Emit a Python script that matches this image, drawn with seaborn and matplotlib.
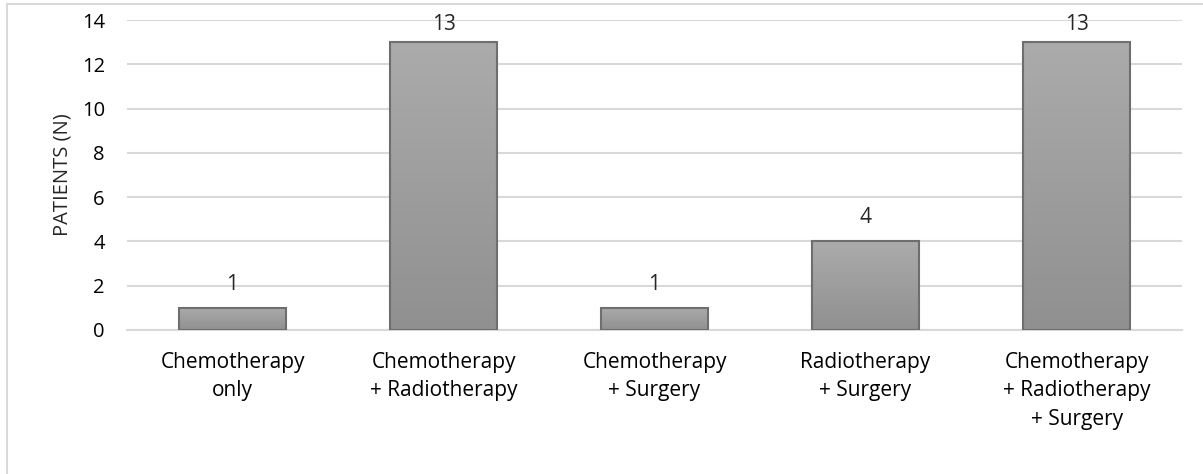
import numpy as np
import pandas as pd
import seaborn as sns
import matplotlib.pyplot as plt
from matplotlib.colors import LinearSegmentedColormap
from matplotlib.lines import Line2D

# data
categories = ["Chemotherapy\nonly", "Chemotherapy\n+ Radiotherapy", "Chemotherapy\n+ Surgery",
              "Radiotherapy\n+ Surgery", "Chemotherapy\n+ Radiotherapy\n+ Surgery"]
patients = [1, 13, 1, 4, 13]
y_ticks = [0, 2, 4, 6, 8, 10, 12, 14]

df = pd.DataFrame({"treatment": categories, "patients": patients})

sns.set_style("white")
plt.rcParams["font.family"] = ["Open Sans", "DejaVu Sans"]

fig = plt.figure(figsize=(12.03, 4.74), dpi=100)
ax = fig.add_axes([0.1056, 0.3038, 0.877, 0.654])

sns.barplot(data=df, x="treatment", y="patients", color="#a0a0a0", width=0.51,
            edgecolor="#6e6e6e", linewidth=1.5, ax=ax, zorder=3)

# vertical gradient fill on each bar
grad = np.linspace(0, 1, 256).reshape(-1, 1)
cmap = LinearSegmentedColormap.from_list("g", ["#909090", "#ababab"])
for bar in ax.patches:
    x0, y0 = bar.get_x(), bar.get_y()
    w, h = bar.get_width(), bar.get_height()
    im = ax.imshow(grad, cmap=cmap, origin="lower", aspect="auto",
                   extent=[x0, x0 + w, y0, y0 + h], zorder=3.5)
    im.set_clip_path(bar)
    bar.set_facecolor("none")
    bar.set_zorder(4)

ax.set_xlim(-0.5, len(categories) - 0.5)
ax.set_ylim(0, 14)
ax.set_yticks(y_ticks)
ax.yaxis.grid(True, color="#d9d9d9", linewidth=1.5, zorder=0)
ax.set_axisbelow(True)
for s in ["top", "right", "left"]:
    ax.spines[s].set_visible(False)
ax.spines["bottom"].set_color("#d9d9d9")
ax.spines["bottom"].set_linewidth(1.5)
ax.tick_params(axis="y", length=0, labelsize=14.5, colors="black", pad=16)
ax.tick_params(axis="x", length=0, labelsize=15, colors="black", pad=16)
for lbl in ax.get_xticklabels():
    lbl.set_linespacing(1.45)
ax.set_xlabel("")
ax.set_ylabel("PATIENTS (N)", fontsize=14.5)
ax.yaxis.set_label_coords(-0.052, 0.5)

# value labels, kept inside the plot area like the original
px_per_unit = 310 / 14
for bar, v in zip(ax.patches, patients):
    y = min(v + 18 / px_per_unit, 14 - 10 / px_per_unit)
    ax.text(bar.get_x() + bar.get_width() / 2, y, str(v), ha="center", va="baseline",
            fontsize=15)

# outer chart border
fig.add_artist(Line2D([6.5 / 1203, 1.0], [1 - 3.5 / 474] * 2, transform=fig.transFigure,
                      color="#d9d9d9", linewidth=1.5))
fig.add_artist(Line2D([6.5 / 1203] * 2, [0, 1 - 3.5 / 474], transform=fig.transFigure,
                      color="#d9d9d9", linewidth=1.5))

fig.savefig("out.png", dpi=100)
